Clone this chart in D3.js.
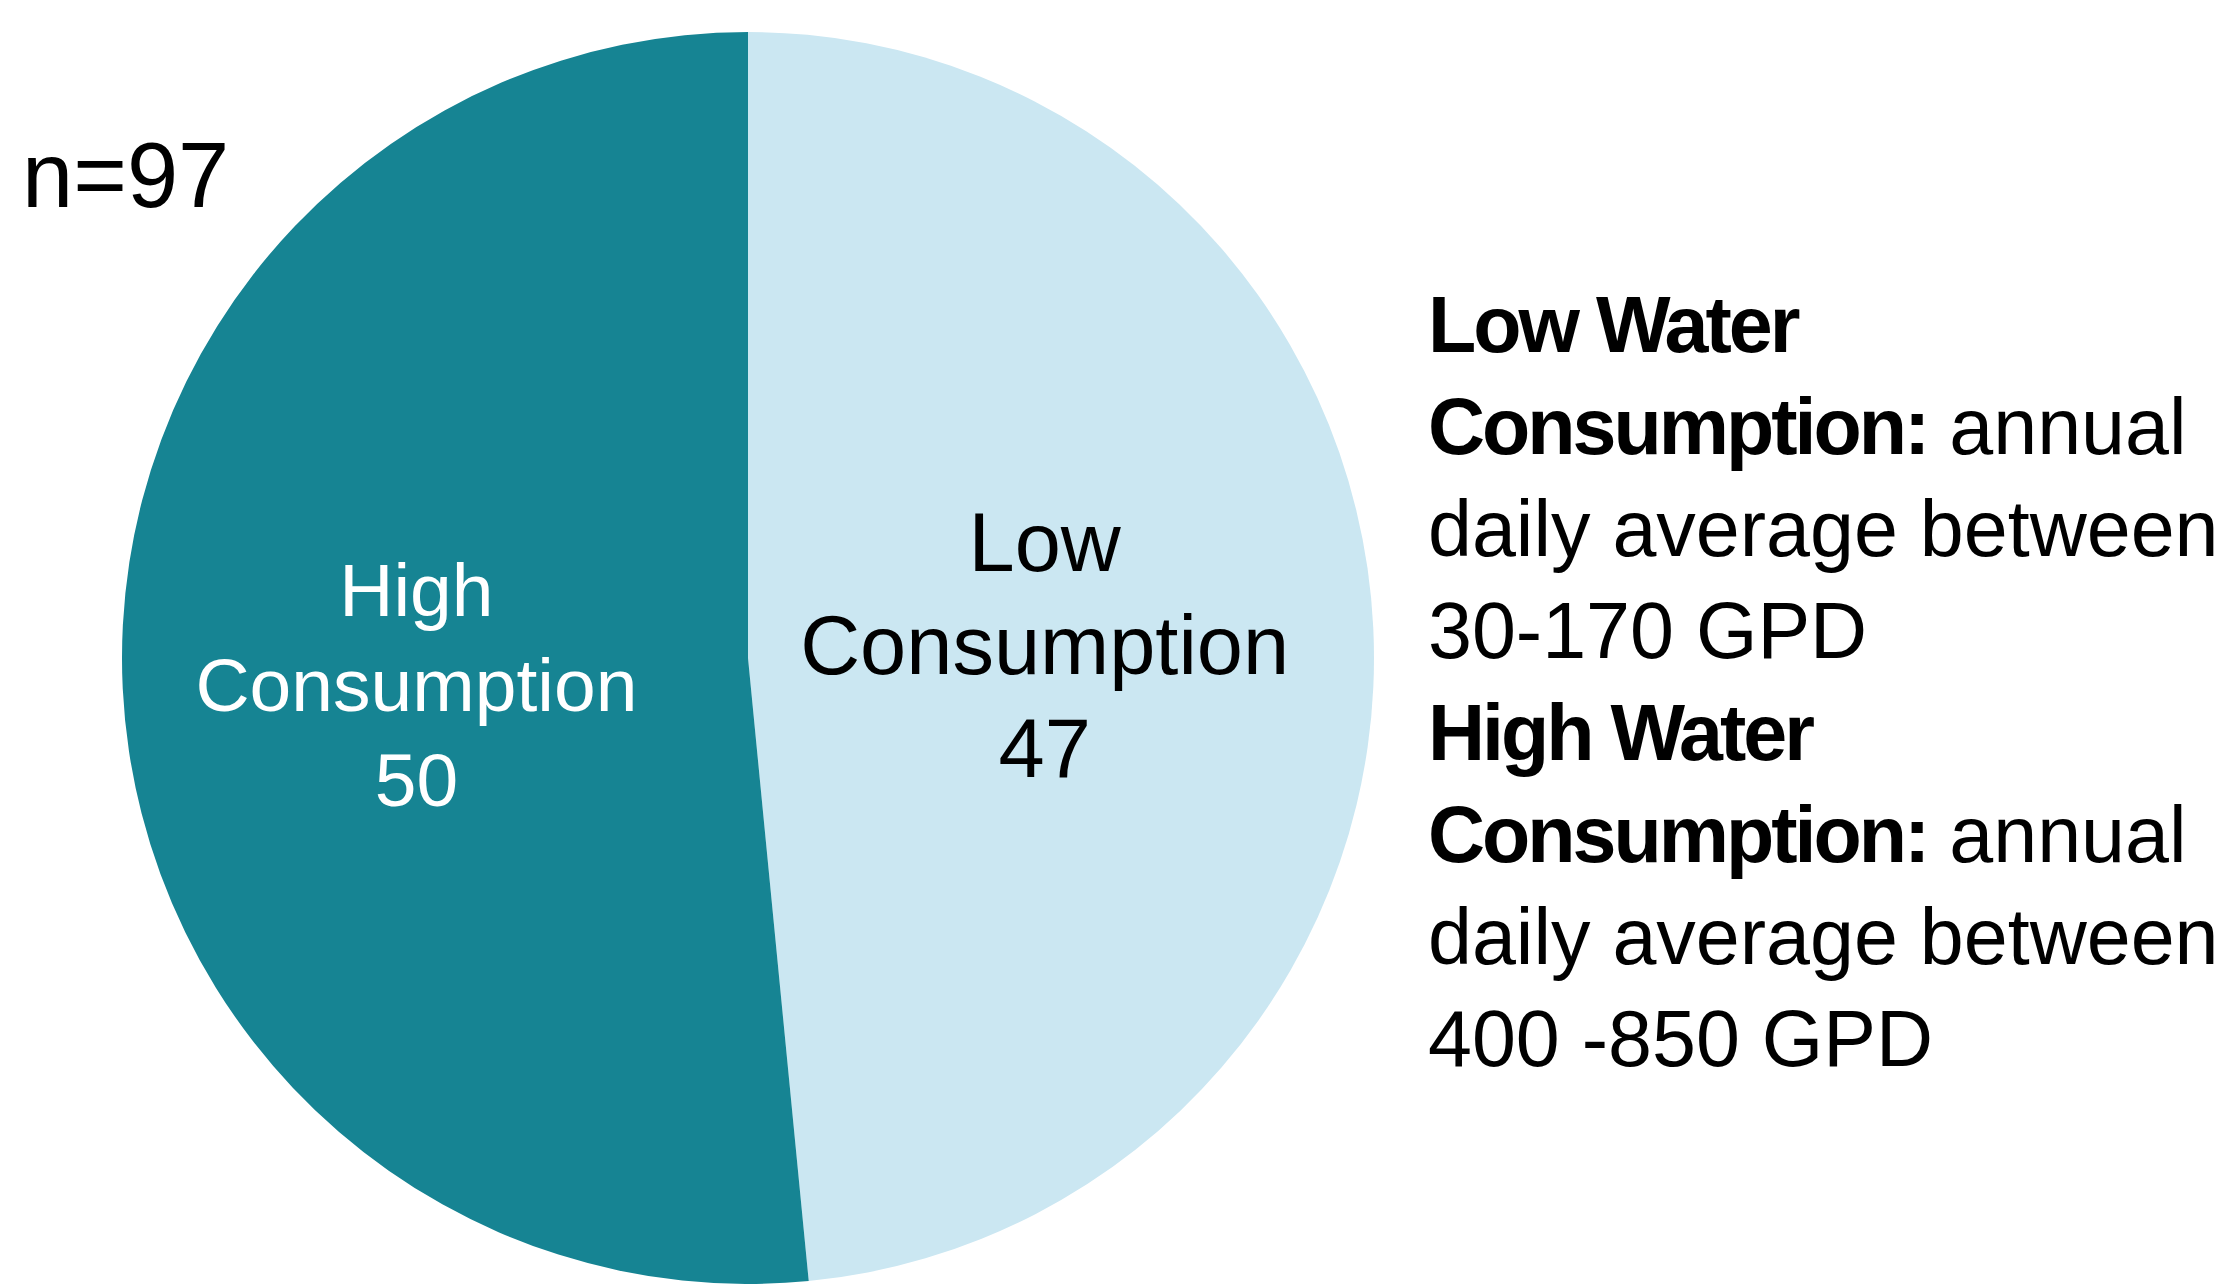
<!DOCTYPE html>
<html>
<head>
<meta charset="utf-8">
<script src="https://cdn.jsdelivr.net/npm/d3@7"></script>
<style>
  body { margin: 0; background: #fff; }
  text { font-family: "Liberation Sans", Arial, sans-serif; }
</style>
</head>
<body>
<div id="chart"></div>
<script>
const categories = ['Low Consumption', 'High Consumption'];
const counts = [47, 50];
const sampleLabel = 'n=97';

// legend lines: each line is a list of [text, bold]
const legendLines = [
  [['Low Water', true]],
  [['Consumption:', true], [' annual', false]],
  [['daily average between', false]],
  [['30-170 GPD', false]],
  [['High Water', true]],
  [['Consumption:', true], [' annual', false]],
  [['daily average between', false]],
  [['400 -850 GPD', false]]
];

const width = 2235;
const height = 1285;

const colors = d3.scaleOrdinal()
  .domain(categories)
  .range(['#cbe7f2', '#168493']);

const labelStyle = {
  'Low Consumption': { r: 297, size: 83, lh: 103, dy: 30, fill: '#000' },
  'High Consumption': { r: 332, size: 75, lh: 95, dy: 37, fill: '#fff' }
};

const svg = d3.select('#chart').append('svg')
  .attr('width', width)
  .attr('height', height);

const cx = 748, cy = 658, radius = 626;

const g = svg.append('g')
  .attr('transform', 'translate(' + cx + ',' + cy + ')');

const pie = d3.pie().sort(null).value(d => d.value);
const arcs = pie(categories.map((c, i) => ({ name: c, value: counts[i] })));

const arc = d3.arc()
  .outerRadius(radius)
  .innerRadius(0);

g.selectAll('path')
  .data(arcs)
  .enter()
  .append('path')
  .attr('d', arc)
  .attr('fill', d => colors(d.data.name));

// slice labels
arcs.forEach(d => {
  const st = labelStyle[d.data.name];
  const pos = d3.arc().innerRadius(st.r).outerRadius(st.r).centroid(d);
  const words = d.data.name.split(' ');
  const lines = [words[0], words.slice(1).join(' '), '' + d.data.value];
  const t = g.append('text')
    .attr('text-anchor', 'middle')
    .attr('font-size', st.size)
    .attr('fill', st.fill);
  lines.forEach((l, i) => {
    t.append('tspan')
      .attr('x', pos[0])
      .attr('y', pos[1] + st.dy + (i - 1) * st.lh)
      .text(l);
  });
});

svg.append('text')
  .attr('x', 22)
  .attr('y', 207)
  .attr('font-size', 92)
  .attr('fill', '#000')
  .text(sampleLabel);

// legend text
const legend = svg.append('text')
  .attr('font-size', 79)
  .attr('fill', '#000');

legendLines.forEach((line, i) => {
  line.forEach((part, j) => {
    const ts = legend.append('tspan')
      .attr('font-weight', part[1] ? 'bold' : 'normal')
      .attr('letter-spacing', part[1] ? -3 : 0)
      .style('white-space', 'pre')
      .text(part[0]);
    if (j === 0) {
      ts.attr('x', 1428).attr('y', 352 + i * 102);
    }
  });
});
</script>
</body>
</html>
